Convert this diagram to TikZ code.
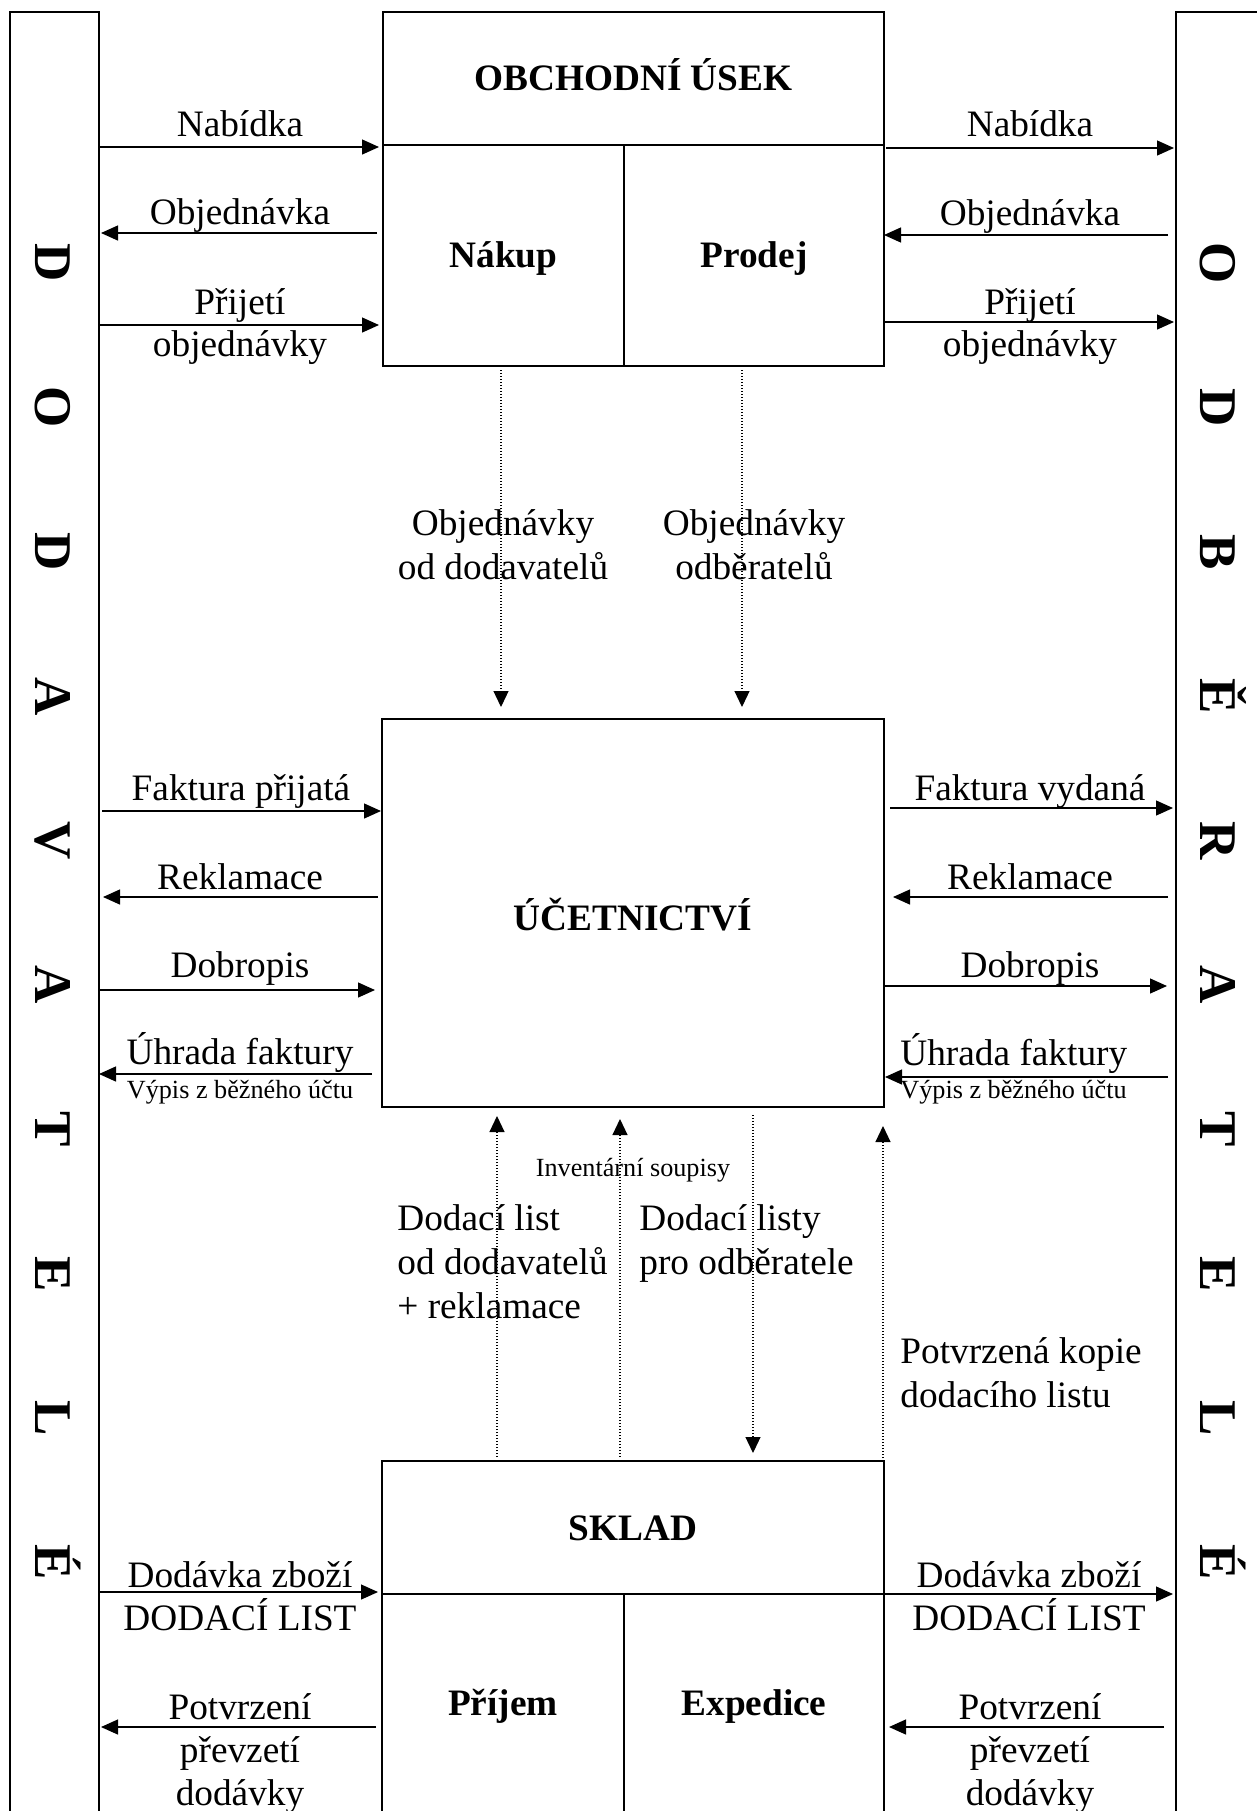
\documentclass[tikz,border=0pt]{standalone}
\usepackage{fontspec}
\setmainfont{Liberation Serif}
\usetikzlibrary{arrows.meta}
\begin{document}
\begin{tikzpicture}[x=0.5pt,y=-0.5pt,
  box/.style={draw,line width=1pt,inner sep=0pt,outer sep=0pt,rectangle},
  arr/.style={line width=0.65pt,-{Triangle[length=8.5pt,width=7.5pt]}},
  dotarr/.style={line width=0.6pt,dash pattern=on 0.6pt off 0.9pt,-{Triangle[length=8pt,width=7.5pt]}},
  lbl/.style={anchor=base,inner sep=0pt,yshift=-1pt,font=\fontsize{18.65pt}{21.5pt}\selectfont},
  lbll/.style={anchor=base west,inner sep=0pt,yshift=-1pt,font=\fontsize{18.65pt}{21.5pt}\selectfont},
  smalllbl/.style={anchor=base,inner sep=0pt,font=\fontsize{13.1pt}{15.5pt}\selectfont},
  smalllbll/.style={anchor=base west,inner sep=0pt,font=\fontsize{13.1pt}{15.5pt}\selectfont},
  head/.style={anchor=base,inner sep=0pt,font=\fontsize{18.65pt}{21.5pt}\selectfont\bfseries},
  vlet/.style={rotate=-90,inner sep=0pt,text height=17.5pt,text depth=0pt,font=\fontsize{26.5pt}{30pt}\selectfont\bfseries}
]
\useasboundingbox (0,0) rectangle (1257,1811);
\clip (0,0) rectangle (1257,1811);

% side columns
\node[box,minimum width=44.5pt,minimum height=909pt] (dod) at (54.5,921) {};
\node[box,minimum width=44.5pt,minimum height=909pt] (odb) at (1220.5,921) {};
\foreach \l [count=\i from 0] in {D,O,D,A,V,A,T,E,L,É}
  \node[vlet] (dl\i) at (53,263+\i*144.4) {\l};
\foreach \l [count=\i from 0] in {O,D,B,Ě,R,A,T,E,L,É}
  \node[vlet] (ol\i) at (1218,263+\i*144.4) {\l};

% central boxes
\node[box,minimum width=250.5pt,minimum height=177pt] (obch) at (633.5,189) {};
\draw[line width=1pt] (obch.west |- 0,145) -- (obch.east |- 0,145);
\draw[line width=1pt] (624,145) -- (obch.south -| 624,0);
\node[box,minimum width=251pt,minimum height=194pt] (uct) at (633,913) {};
\node[box,minimum width=251pt,minimum height=177.5pt] (sklad) at (633,1638.5) {};
\draw[line width=1pt] (sklad.west |- 0,1594) -- (sklad.east |- 0,1594);
\draw[line width=1pt] (624,1594) -- (sklad.south -| 624,0);

\node[head] (tobch) at (633.5,90) {OBCHODNÍ ÚSEK};
\node[head] (tnak) at (503.5,267) {Nákup};
\node[head] (tpro) at (754,267) {Prodej};
\node[head] (tuct) at (633,930) {ÚČETNICTVÍ};
\node[head] (tskl) at (633,1540) {SKLAD};
\node[head] (tpri) at (503,1715) {Příjem};
\node[head] (texp) at (754,1715) {Expedice};

% top arrows, left
\draw[arr,shorten >=2pt] (dod.east |- 0,147) -- (obch.west |- 0,147);
\node[lbl] (l1) at (240,134) {Nabídka};
\draw[arr,shorten <=3pt,shorten >=1pt] (obch.west |- 0,233) -- (dod.east |- 0,233);
\node[lbl] (l2) at (240,222) {Objednávka};
\draw[arr,shorten >=2pt] (dod.east |- 0,325) -- (obch.west |- 0,325);
\node[lbl] (l3) at (240,312) {Přijetí};
\node[lbl] (l3b) at (240,354) {objednávky};
% top arrows, right
\draw[arr,shorten <=1pt,shorten >=1pt] (obch.east |- 0,148) -- (odb.west |- 0,148);
\node[lbl] (r1) at (1030,134) {Nabídka};
\draw[arr,shorten <=4pt] (odb.west |- 0,235) -- (obch.east |- 0,235);
\node[lbl] (r2) at (1030,223) {Objednávka};
\draw[arr,shorten >=1pt] (obch.east |- 0,322) -- (odb.west |- 0,322);
\node[lbl] (r3) at (1030,312) {Přijetí};
\node[lbl] (r3b) at (1030,354) {objednávky};

% dotted arrows obchod -> ucetnictvi
\draw[dotarr,shorten <=2pt,shorten >=6pt] (obch.south -| 501,0) -- (uct.north -| 501,0);
\draw[dotarr,shorten <=2pt,shorten >=6pt] (obch.south -| 742,0) -- (uct.north -| 742,0);
\node[lbl] (m1) at (503,533) {Objednávky};
\node[lbl] (m1b) at (503,577) {od dodavatelů};
\node[lbl] (m2) at (754,533) {Objednávky};
\node[lbl] (m2b) at (754,577) {odběratelů};

% middle arrows, left
\draw[arr,shorten <=1.5pt,shorten >=0.5pt] (dod.east |- 0,811) -- (uct.west |- 0,811);
\node[lbl] (l4) at (241,798) {Faktura přijatá};
\draw[arr,shorten <=2pt,shorten >=2pt] (uct.west |- 0,897) -- (dod.east |- 0,897);
\node[lbl] (l5) at (240,887) {Reklamace};
\draw[arr,shorten >=3.5pt] (dod.east |- 0,990) -- (uct.west |- 0,990);
\node[lbl] (l6) at (240,975) {Dobropis};
\draw[arr,shorten <=5pt] (uct.west |- 0,1074) -- (dod.east |- 0,1074);
\node[lbl] (l7) at (240,1062) {Úhrada faktury};
\node[smalllbl] (l7b) at (240,1098) {Výpis z běžného účtu};
% middle arrows, right
\draw[arr,shorten <=3pt,shorten >=1.5pt] (uct.east |- 0,808) -- (odb.west |- 0,808);
\node[lbl] (r4) at (1030,798) {Faktura vydaná};
\draw[arr,shorten <=4pt,shorten >=4.5pt] (odb.west |- 0,897) -- (uct.east |- 0,897);
\node[lbl] (r5) at (1030,887) {Reklamace};
\draw[arr,shorten >=4.5pt] (uct.east |- 0,986) -- (odb.west |- 0,986);
\node[lbl] (r6) at (1030,975) {Dobropis};
\draw[arr,shorten <=4pt,shorten >=0.5pt] (odb.west |- 0,1077) -- (uct.east |- 0,1077);
\node[lbll] (r7) at (900,1063) {Úhrada faktury};
\node[smalllbll] (r7b) at (900,1098) {Výpis z běžného účtu};

% dotted arrows sklad <-> ucetnictvi
\draw[dotarr,shorten <=2pt,shorten >=4.5pt] (sklad.north -| 497,0) -- (uct.south -| 497,0);
\draw[dotarr,shorten <=2pt,shorten >=6pt] (sklad.north -| 620,0) -- (uct.south -| 620,0);
\draw[dotarr,shorten <=4pt,shorten >=4pt] (uct.south -| 753,0) -- (sklad.north -| 753,0);
\draw[dotarr,shorten >=9.5pt] (sklad.north -| 883,0) -- (uct.south -| 883,0);
\node[smalllbl] (inv) at (633,1176) {Inventární soupisy};
\node[lbll] (d1) at (397,1228) {Dodací list};
\node[lbll] (d1b) at (397,1272) {od dodavatelů};
\node[lbll] (d1c) at (397,1316) {+ reklamace};
\node[lbll] (d2) at (639,1228) {Dodací listy};
\node[lbll] (d2b) at (639,1272) {pro odběratele};
\node[lbll] (d3) at (900,1361) {Potvrzená kopie};
\node[lbll] (d3b) at (900,1405) {dodacího listu};

% bottom arrows, left
\draw[arr,shorten >=2pt] (dod.east |- 0,1592) -- (sklad.west |- 0,1592);
\node[lbl] (l8) at (240,1585) {Dodávka zboží};
\node[lbl] (l8b) at (240,1628) {DODACÍ LIST};
\draw[arr,shorten <=3pt,shorten >=1pt] (sklad.west |- 0,1727) -- (dod.east |- 0,1727);
\node[lbl] (l9) at (240,1717) {Potvrzení};
\node[lbl] (l9b) at (240,1760) {převzetí};
\node[lbl] (l9c) at (240,1803) {dodávky};
% bottom arrows, right
\draw[arr,shorten >=1.5pt] (sklad.east |- 0,1594) -- (odb.west |- 0,1594);
\node[lbl] (r8) at (1029,1585) {Dodávka zboží};
\node[lbl] (r8b) at (1029,1628) {DODACÍ LIST};
\draw[arr,shorten <=6pt,shorten >=2.5pt] (odb.west |- 0,1727) -- (sklad.east |- 0,1727);
\node[lbl] (r9) at (1030,1717) {Potvrzení};
\node[lbl] (r9b) at (1030,1760) {převzetí};
\node[lbl] (r9c) at (1030,1803) {dodávky};
\end{tikzpicture}
\end{document}
